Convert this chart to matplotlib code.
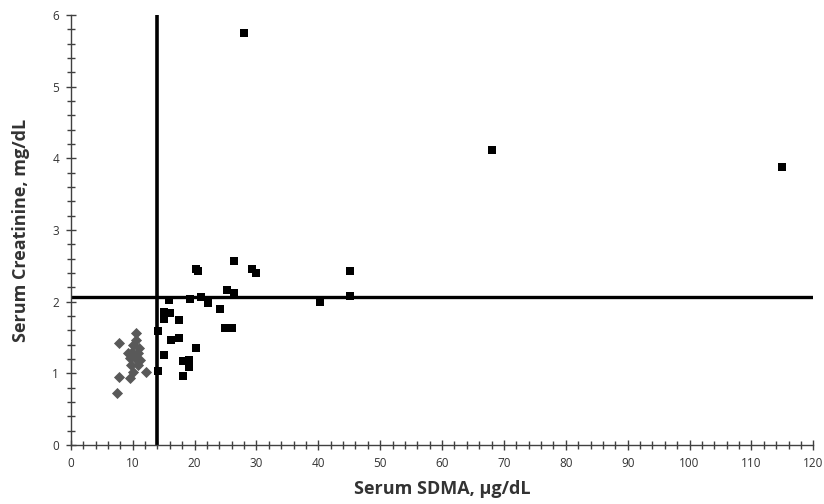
import matplotlib as mpl
mpl.use('Agg')
import numpy as np
import matplotlib.pyplot as plt
from matplotlib.ticker import MultipleLocator

# SDMA (x) / creatinine (y)
sq_x = [14.1, 14.1, 15.1, 16.0, 15.1, 15.8, 17.4, 16.2, 17.4, 15.1, 18.2, 19.1,
        19.1, 18.2, 20.2, 19.2, 21.1, 22.1, 20.2, 20.6, 24.1, 25.2, 26.3, 24.9,
        26.1, 26.4, 29.2, 30.0, 40.2, 45.1, 45.1, 28.0, 68.0, 115.0]
sq_y = [1.03, 1.59, 1.86, 1.84, 1.76, 2.02, 1.74, 1.47, 1.49, 1.25, 1.17, 1.18,
        1.09, 0.97, 1.36, 2.04, 2.07, 1.98, 2.45, 2.43, 1.90, 2.16, 2.12, 1.64,
        1.64, 2.57, 2.46, 2.40, 1.99, 2.43, 2.08, 5.75, 4.12, 3.88]

dm_x = [7.7, 10.5, 10.6, 10.1, 11.0, 9.3, 10.9, 9.5, 11.2, 9.8, 10.9, 12.2,
        10.1, 7.7, 9.5, 7.4, 10.3, 9.9]
dm_y = [1.42, 1.56, 1.47, 1.39, 1.35, 1.28, 1.28, 1.21, 1.19, 1.12, 1.12, 1.02,
        1.02, 0.95, 0.93, 0.73, 1.22, 1.30]

sdma_cut = 14
creat_cut = 2.07

plt.rcParams['font.family'] = ['Open Sans', 'DejaVu Sans']

fig = plt.figure(figsize=(8.24, 5.04), dpi=100)
ax = fig.add_axes([0.086, 0.117, 0.901, 0.853])

ax.scatter(dm_x, dm_y, marker='D', s=32, color='#595959', linewidths=0, zorder=3)
ax.scatter(sq_x, sq_y, marker='s', s=36, color='black', linewidths=0, zorder=3)

ax.axvline(sdma_cut, color='black', lw=2.6, zorder=2)
ax.axhline(creat_cut, color='black', lw=2.4, zorder=2)

ax.set_xlim(0, 120)
ax.set_ylim(0, 6)
ax.xaxis.set_major_locator(MultipleLocator(10))
ax.xaxis.set_minor_locator(MultipleLocator(2))
ax.yaxis.set_major_locator(MultipleLocator(1))
ax.yaxis.set_minor_locator(MultipleLocator(0.2))

for s in ['top', 'right']:
    ax.spines[s].set_visible(False)
for s in ['left', 'bottom']:
    ax.spines[s].set_color('#404040')
    ax.spines[s].set_linewidth(1.0)

ax.tick_params(which='both', direction='inout', color='#404040', width=1.0)
ax.tick_params(which='major', length=7, labelsize=8.5, labelcolor='#333333', pad=5)
ax.tick_params(which='minor', length=6)

ax.set_xlabel('Serum SDMA, \u00b5g/dL', fontsize=13, fontweight='bold', color='#333333', labelpad=7)
ax.set_ylabel('Serum Creatinine, mg/dL', fontsize=13, fontweight='bold', color='#333333', labelpad=16)

fig.savefig('out.png', dpi=100)
plt.close()
